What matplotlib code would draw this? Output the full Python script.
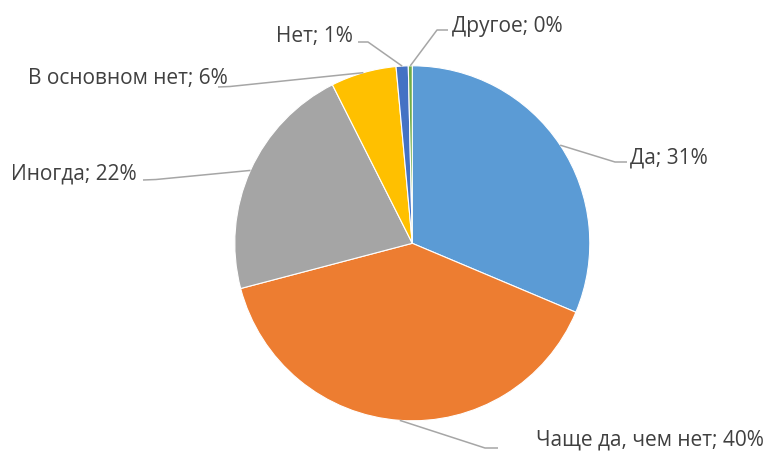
import matplotlib
matplotlib.use("Agg")
import matplotlib.pyplot as plt
import numpy as np

categories = ["Да", "Чаще да, чем нет", "Иногда", "В основном нет", "Нет", "Другое"]
values = [31.35, 39.55, 21.67, 5.97, 1.10, 0.36]
shown_pct = [31, 40, 22, 6, 1, 0]
colors = ["#5B9BD5", "#ED7D31", "#A5A5A5", "#FFC000", "#4472C4", "#70AD47"]

W, H = 769, 451
# label layout in image pixels: text x, baseline y, ha, line end, elbow
layout = [
    (630, 163, "left", (627, 162), (615, 162)),
    (536, 445, "left", (498, 448), (485, 448)),
    (137, 179, "right", (143, 180), (156, 179.5)),
    (228, 84, "right", (218, 87), (230, 86.5)),
    (353, 42, "right", (358, 42), (368, 42)),
    (452, 32, "left", (448, 30), (437, 30)),
]
CX, CY, R = 412.3, 243.3, 177.5

plt.rcParams["font.family"] = ["Open Sans", "DejaVu Sans"]

fig = plt.figure(figsize=(W / 100, H / 100), dpi=100)
ax = fig.add_axes([0, 0, 1, 1])
ax.axis("off")


def fy(y):
    return H - y


wedges, _ = ax.pie(values, colors=colors, startangle=90, counterclock=False,
                   center=(CX, fy(CY)), radius=R,
                   wedgeprops=dict(edgecolor="white", linewidth=0.8))
ax.set_xlim(0, W)
ax.set_ylim(0, H)
ax.set_aspect("equal")

for w, cat, pct, (tx, ty, ha, end, elbow) in zip(wedges, categories, shown_pct, layout):
    mid = np.deg2rad((w.theta1 + w.theta2) / 2)
    px, py = CX + R * np.cos(mid), fy(CY) + R * np.sin(mid)
    ax.plot([px, elbow[0], end[0]], [py, fy(elbow[1]), fy(end[1])],
            color="#A6A6A6", linewidth=1.1, solid_capstyle="butt")
    ax.text(tx, fy(ty), f"{cat}; {pct}%", ha=ha, va="baseline",
            fontsize=15, color="#404040")

fig.savefig("out.png", dpi=100)
